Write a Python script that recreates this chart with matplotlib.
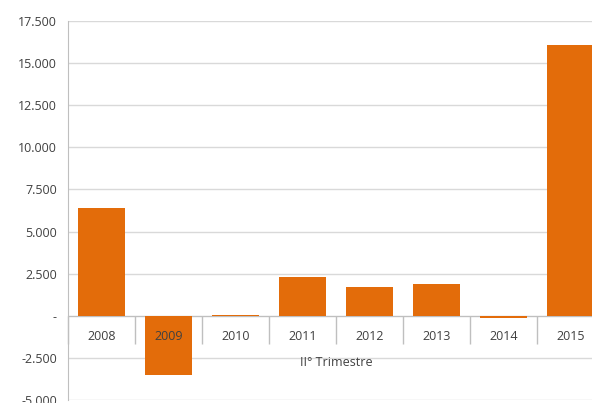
import numpy as np
import matplotlib.pyplot as plt
from matplotlib.ticker import FuncFormatter

# data
anni = ['2008', '2009', '2010', '2011', '2012', '2013', '2014', '2015']
saldo = [6400, -3500, 60, 2300, 1700, 1900, -150, 16050]

arancio = '#E36C0A'
grigio = '#404040'

plt.rcParams['font.family'] = ['Open Sans', 'DejaVu Sans']

fig = plt.figure(figsize=(5.92, 4.03), dpi=100)
# axes run a bit past the right edge, like the cropped original
ax = fig.add_axes([68/592, 3/403, 536/592, 379/403])

x = np.arange(len(anni))
ax.bar(x, saldo, width=0.7, color=arancio, zorder=2)

ax.set_xlim(-0.5, len(anni) - 0.5)
ax.set_ylim(-5000, 17500)
ax.set_yticks(np.arange(-5000, 17501, 2500))

def fmt(v, pos):
    if v == 0:
        return '-'
    return '{:,.0f}'.format(v).replace(',', '.')

ax.yaxis.set_major_formatter(FuncFormatter(fmt))
ax.tick_params(axis='y', length=0, pad=8, labelsize=9, labelcolor=grigio)
ax.grid(axis='y', color='#D9D9D9', linewidth=1)
ax.set_axisbelow(True)

for s in ['top', 'right']:
    ax.spines[s].set_visible(False)
ax.spines['left'].set_color('#BFBFBF')
ax.spines['bottom'].set_position(('data', 0))
ax.spines['bottom'].set_color('#BFBFBF')
ax.spines['bottom'].set_zorder(1.5)

ax.set_xticks(x)
ax.set_xticklabels(anni)
ax.set_xticks(np.arange(-0.5, len(anni), 1.0), minor=True)
ax.tick_params(axis='x', which='major', length=0, pad=10, labelsize=9, labelcolor=grigio)
ax.tick_params(axis='x', which='minor', length=20, color='#BFBFBF', width=1)
# year labels are drawn on top of the bars (2009 sits over its bar)
ax.xaxis.set_zorder(5)

ax.text(0.5, 0.1, 'II° Trimestre', transform=ax.transAxes, ha='center', va='center',
        fontsize=9, color=grigio)

fig.savefig('out.png', dpi=100)
